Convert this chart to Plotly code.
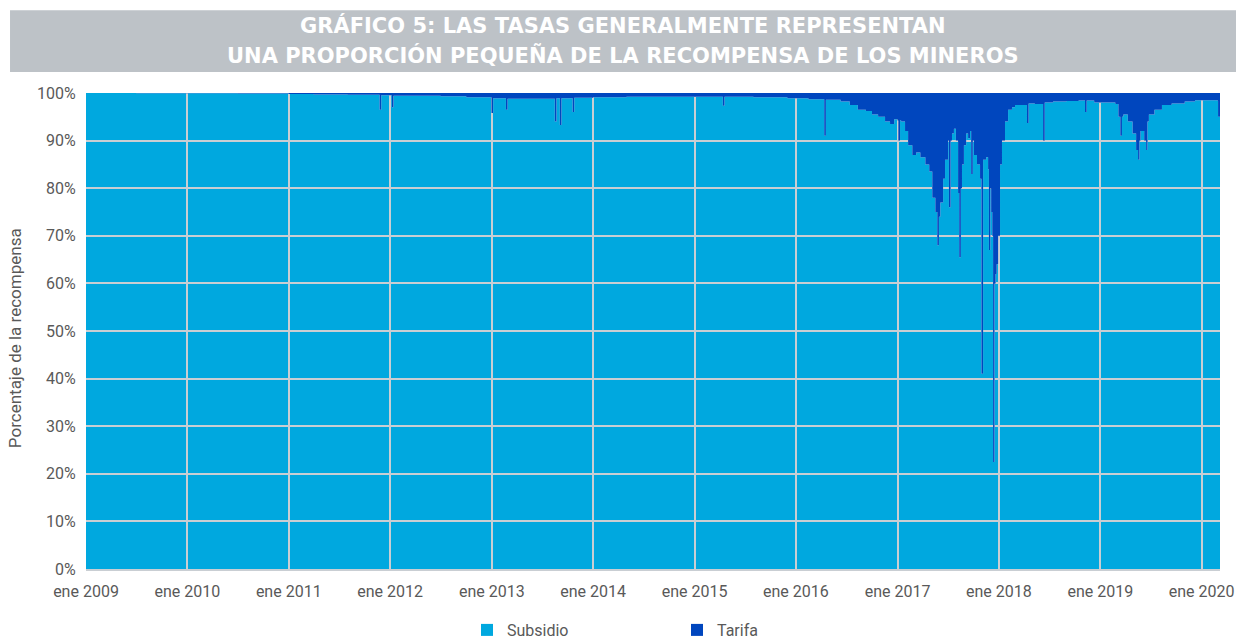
import plotly.graph_objects as go

# ---- data ----
dates = [
    "2009-01-01", "2009-07-01", "2010-01-01", "2010-07-01", "2011-01-01", "2011-04-01",
    "2011-08-01", "2011-11-24", "2011-11-30", "2012-01-07", "2012-01-13", "2012-04-01",
    "2012-07-01", "2012-10-01", "2012-12-31", "2013-01-06", "2013-02-21", "2013-02-27",
    "2013-05-01", "2013-08-16", "2013-08-22", "2013-09-03", "2013-09-09", "2013-10-19",
    "2013-10-25", "2014-01-01", "2014-05-01", "2014-09-01", "2015-01-01", "2015-04-13",
    "2015-04-19", "2015-08-01", "2015-12-01", "2016-02-15", "2016-04-12", "2016-04-18",
    "2016-06-10", "2016-07-13", "2016-08-11", "2016-09-09", "2016-10-01", "2016-10-23",
    "2016-11-17", "2016-12-05", "2016-12-20", "2017-01-01", "2017-01-04", "2017-01-10",
    "2017-01-14", "2017-01-28", "2017-02-08", "2017-02-23", "2017-03-09", "2017-03-24",
    "2017-04-11", "2017-04-25", "2017-05-06", "2017-05-17", "2017-05-24", "2017-05-30",
    "2017-06-04", "2017-06-14", "2017-06-21", "2017-07-02", "2017-07-05", "2017-07-11",
    "2017-07-16", "2017-07-23", "2017-07-30", "2017-08-07", "2017-08-11", "2017-08-17",
    "2017-08-21", "2017-08-28", "2017-09-05", "2017-09-12", "2017-09-19", "2017-09-23",
    "2017-09-29", "2017-10-03", "2017-10-14", "2017-10-25", "2017-10-30", "2017-11-05",
    "2017-11-16", "2017-11-23", "2017-11-26", "2017-12-01", "2017-12-04", "2017-12-08",
    "2017-12-11", "2017-12-16", "2017-12-20", "2017-12-24", "2017-12-29", "2018-01-05",
    "2018-01-12", "2018-01-23", "2018-02-03", "2018-02-17", "2018-02-28", "2018-03-20",
    "2018-04-12", "2018-04-18", "2018-05-10", "2018-06-09", "2018-06-15", "2018-07-15",
    "2018-09-01", "2018-10-15", "2018-11-07", "2018-11-13", "2018-12-10", "2019-01-15",
    "2019-02-24", "2019-03-07", "2019-03-14", "2019-03-20", "2019-03-25", "2019-04-10",
    "2019-04-27", "2019-05-10", "2019-05-17", "2019-05-22", "2019-05-26", "2019-06-08",
    "2019-06-15", "2019-06-20", "2019-06-25", "2019-07-15", "2019-08-11", "2019-09-15",
    "2019-11-01", "2019-12-08", "2020-01-15", "2020-02-25", "2020-02-29", "2020-03-07",
]
tarifa = [
    0.0, 0.05, 0.05, 0.1, 0.2, 0.3,
    0.35, 3.5, 0.45, 3.0, 0.6, 0.6,
    0.7, 0.9, 4.2, 1.1, 3.5, 1.2,
    1.2, 6.0, 1.1, 6.7, 1.1, 4.0,
    1.0, 0.9, 0.8, 0.8, 0.8, 2.7,
    0.8, 0.9, 1.1, 1.3, 9.0, 1.4,
    1.8, 2.5, 3.5, 3.8, 4.5, 5.0,
    6.0, 6.5, 5.5, 5.8, 10.0, 5.8,
    6.0, 8.0, 11.0, 13.0, 12.5, 13.5,
    15.0, 16.5, 22.0, 25.0, 32.0, 26.0,
    23.0, 18.0, 14.0, 10.0, 24.0, 10.0,
    8.5, 7.5, 10.0, 21.0, 34.5, 20.0,
    15.0, 11.0, 8.5, 9.5, 8.0, 17.0,
    10.0, 13.0, 15.0, 18.0, 59.0, 14.0,
    13.5, 16.0, 33.0, 20.0, 25.0, 30.0,
    77.5, 40.0, 38.0, 36.0, 30.0, 15.0,
    10.0, 6.0, 3.5, 3.0, 2.5, 2.5,
    6.3, 2.2, 2.3, 10.0, 2.0, 1.8,
    1.7, 1.6, 4.0, 1.6, 2.0, 2.0,
    2.3, 5.0, 9.0, 5.0, 4.5, 6.0,
    8.5, 12.0, 14.0, 10.0, 8.0, 10.0,
    12.0, 6.0, 4.5, 3.5, 2.5, 2.2,
    1.8, 1.5, 1.5, 1.6, 5.0, 5.0,
]
subsidio = [100 - t for t in tarifa]

year_ticks = [f"{y}-01-01" for y in range(2009, 2021)]
year_labels = [f"ene {y}" for y in range(2009, 2021)]
y_ticks = list(range(0, 101, 10))
y_labels = [f"{v}%" for v in y_ticks]

LIGHT = "#00A8DF"
DARK = "#0046BE"
GRID = "#C9CED3"
TXT = "#595959"
FONT = "Roboto"
TFONT = "DejaVu Sans"
x_range = ["2009-01-01", "2020-03-07"]

fig = go.Figure()
# subplot 1: Subsidio (bottom layer)
fig.add_trace(go.Scatter(x=dates, y=subsidio, name="Subsidio", mode="lines",
                         line=dict(width=0, shape="hv"), fill="tozeroy",
                         fillcolor=LIGHT, showlegend=False, hoverinfo="skip",
                         xaxis="x", yaxis="y"))
# subplot 2: only grid + axes (invisible placeholder trace)
fig.add_trace(go.Scatter(x=[None], y=[None], mode="markers", showlegend=False,
                         hoverinfo="skip", xaxis="x2", yaxis="y2"))
# subplot 3: Tarifa from the top (reversed axis), drawn above the grid
fig.add_trace(go.Scatter(x=dates, y=tarifa, name="Tarifa", mode="lines",
                         line=dict(width=0, shape="hv"), fill="tozeroy",
                         fillcolor=DARK, showlegend=False, hoverinfo="skip",
                         xaxis="x3", yaxis="y3"))
# legend entries
fig.add_trace(go.Scatter(x=[None], y=[None], name="Subsidio", mode="markers",
                         marker=dict(symbol="square", size=10, color=LIGHT),
                         xaxis="x", yaxis="y"))
fig.add_trace(go.Scatter(x=[None], y=[None], name="Tarifa", mode="markers",
                         marker=dict(symbol="square", size=10, color=DARK),
                         xaxis="x", yaxis="y"))

hidden_x = dict(range=x_range, type="date", showgrid=False, showticklabels=False,
                zeroline=False, showline=False, domain=[0, 1])
fig.update_layout(
    width=1246, height=639,
    margin=dict(l=86, r=26, t=93, b=70),
    paper_bgcolor="white", plot_bgcolor="rgba(0,0,0,0)",
    font=dict(family=FONT, size=16, color=TXT),
    xaxis=dict(hidden_x, anchor="y"),
    yaxis=dict(range=[0, 100], showgrid=False, showticklabels=False, zeroline=False,
               anchor="x", domain=[0, 1]),
    xaxis2=dict(range=x_range, type="date", anchor="y2", domain=[0, 1],
                tickvals=year_ticks, ticktext=year_labels, showgrid=True,
                gridcolor=GRID, gridwidth=1.5, showline=True, linecolor=GRID,
                linewidth=1.5, ticks="outside", ticklen=7, tickcolor="rgba(0,0,0,0)",
                tickfont=dict(family=FONT, size=16, color=TXT), zeroline=False),
    yaxis2=dict(range=[0, 100], anchor="x2", domain=[0, 1], tickvals=y_ticks,
                ticktext=y_labels, showgrid=True, gridcolor=GRID, gridwidth=1.5,
                zeroline=False, ticks="outside", ticklen=6, tickcolor="rgba(0,0,0,0)",
                tickfont=dict(family=FONT, size=16, color=TXT)),
    xaxis3=dict(hidden_x, anchor="y3"),
    yaxis3=dict(range=[100, 0], showgrid=False, showticklabels=False, zeroline=False,
                anchor="x3", domain=[0, 1]),
    legend=dict(orientation="h", xref="container", yref="container",
                x=467 / 1246, xanchor="left", y=(639 - 630) / 639, yanchor="middle",
                font=dict(family=FONT, size=16, color=TXT), entrywidth=165,
                entrywidthmode="pixels", itemsizing="constant", itemwidth=30),
    showlegend=True,
    shapes=[dict(type="rect", xref="paper", yref="paper", x0=-0.067, x1=1.0141,
                 y0=1.044, y1=1.174, fillcolor="#BDC2C7", line=dict(width=0),
                 layer="below")],
    annotations=[
        dict(text="<b>GRÁFICO 5: LAS TASAS GENERALMENTE REPRESENTAN</b>", xref="paper",
             yref="paper", x=0.4735, y=1.1408, showarrow=False, xanchor="center",
             yanchor="middle", font=dict(family=TFONT, size=21, color="white")),
        dict(text="<b>UNA PROPORCIÓN PEQUEÑA DE LA RECOMPENSA DE LOS MINEROS</b>",
             xref="paper", yref="paper", x=0.4735, y=1.0798, showarrow=False,
             xanchor="center", yanchor="middle",
             font=dict(family=TFONT, size=21, color="white")),
        dict(text="Porcentaje de la recompensa", xref="paper", yref="paper",
             x=-0.0626, y=0.485, textangle=-90, showarrow=False, xanchor="center",
             yanchor="middle", font=dict(family=FONT, size=17, color=TXT)),
    ],
)

fig.write_html("out.html", config={"displayModeBar": False},
               post_script="document.body.style.margin='0px';")
